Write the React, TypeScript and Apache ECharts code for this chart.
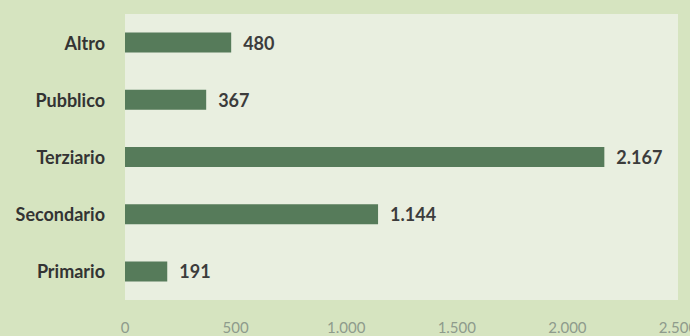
import React, { useEffect, useRef } from "react";
import * as echarts from "echarts";

const categories = ["Primario", "Secondario", "Terziario", "Pubblico", "Altro"];
const values = [191, 1144, 2167, 367, 480];
const axisTicks = [0, 500, 1000, 1500, 2000, 2500];

const fmt = (v: number) => {
  const s = Math.round(v).toString();
  return s.replace(/\B(?=(\d{3})+(?!\d))/g, ".");
};

export default function App() {
  const ref = useRef<HTMLDivElement>(null);
  useEffect(() => {
    document.body.style.margin = "0";
    const chart = echarts.init(ref.current!, undefined, { renderer: "svg" });
    chart.setOption({
      animation: false,
      backgroundColor: "#d6e4c0",
      grid: {
        left: 125,
        right: 12,
        top: 14,
        bottom: 36,
        show: true,
        backgroundColor: "#e9efe0",
        borderWidth: 0,
        containLabel: false,
        outerBoundsMode: "none",
      },
      xAxis: {
        type: "value",
        min: axisTicks[0],
        max: axisTicks[axisTicks.length - 1],
        interval: 500,
        splitLine: { show: false },
        axisLine: { show: false },
        axisTick: { show: false },
        axisLabel: {
          color: "#8e9b8c",
          fontFamily: "Lato",
          fontSize: 15,
          margin: 19,
          formatter: (v: number) => fmt(v),
        },
      },
      yAxis: {
        type: "category",
        data: categories,
        axisLine: { show: false },
        axisTick: { show: false },
        axisLabel: {
          color: "#333333",
          fontFamily: "Lato",
          fontWeight: "bold",
          fontSize: 18,
          margin: 20,
        },
      },
      series: [
        {
          type: "bar",
          data: values,
          barWidth: 20,
          itemStyle: { color: "#567b5a" },
          label: {
            show: true,
            position: "right",
            distance: 12,
            color: "#3c3c3c",
            fontFamily: "Lato",
            fontWeight: "bold",
            fontSize: 18,
            formatter: (p: any) => fmt(p.value),
          },
        },
      ],
    });
    return () => chart.dispose();
  }, []);
  return <div ref={ref} style={{ width: 690, height: 336 }} />;
}
